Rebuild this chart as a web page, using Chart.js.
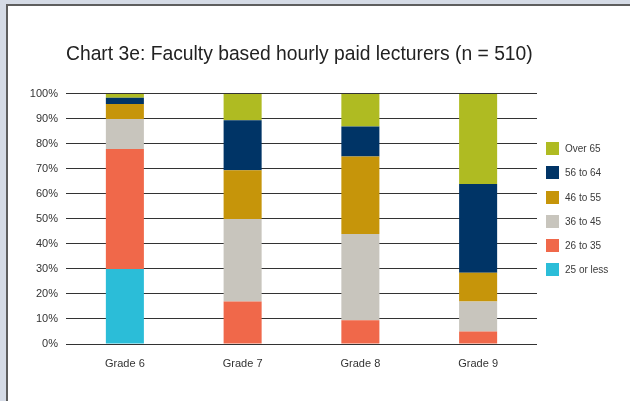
<!DOCTYPE html>
<html>
<head>
<meta charset="utf-8">
<script src="https://cdn.jsdelivr.net/npm/chart.js@4/dist/chart.umd.min.js"></script>
<style>
  html, body { margin: 0; padding: 0; }
  body { width: 630px; height: 401px; background: #d5dbe6; position: relative; overflow: hidden; font-family: "Liberation Sans", Arial, sans-serif; }
  #panel { position: absolute; left: 6px; top: 4px; width: 640px; height: 420px; background: #fff; border-left: 2px solid #5e5e5e; border-top: 2px solid #5e5e5e; box-sizing: border-box; }
  #wrap { position: absolute; left: 9px; top: 7px; width: 572px; height: 394px; }
  #legend { position: absolute; left: 546px; top: 142px; margin: 0; padding: 0; list-style: none; }
  #legend li { height: 13px; margin-bottom: 11.3px; display: flex; align-items: center; font-size: 10px; color: #3a3a3a; white-space: nowrap; }
  #legend span.sw { width: 13px; height: 13px; display: inline-block; margin-right: 6px; }
</style>
</head>
<body>
<div id="panel"></div>
<div id="wrap"><canvas id="chart"></canvas></div>
<ul id="legend"></ul>
<script>
// DATA
const categories = ["Grade 6", "Grade 7", "Grade 8", "Grade 9"];
const ageGroups = ["25 or less", "26 to 35", "36 to 45", "46 to 55", "56 to 64", "Over 65"];
const upTo25   = [30, 0, 0, 0];
const age26to35 = [48, 17, 9.5, 5];
const age36to45 = [12, 33, 34.5, 12];
const age46to55 = [6, 19.5, 31, 11.5];
const age56to64 = [2.5, 20, 12, 35.5];
const over65    = [1.5, 10.5, 13, 36];
const yTicks = [0, 10, 20, 30, 40, 50, 60, 70, 80, 90, 100];

const colours = ["#2bbdd8", "#f0684a", "#c8c5bd", "#c6950a", "#003466", "#afbb22"];
const series = [upTo25, age26to35, age36to45, age46to55, age56to64, over65];

const FONT = "'Liberation Sans', Arial, sans-serif";

const datasets = series.map((vals, i) => ({
    label: ageGroups[i],
    data: vals,
    backgroundColor: colours[i],
    borderWidth: 0,
    categoryPercentage: 1,
    barPercentage: 0.323
}));

new Chart(document.getElementById("chart"), {
    type: "bar",
    data: { labels: categories, datasets },
    options: {
        responsive: true,
        maintainAspectRatio: false,
        animation: false,
        layout: { padding: { left: 0, right: 44, top: 0, bottom: 25.8 } },
        plugins: {
            legend: { display: false },
            tooltip: { enabled: false },
            title: {
                display: true,
                fullSize: false,
                align: "start",
                text: "Chart 3e: Faculty based hourly paid lecturers (n = 510)",
                color: "#222",
                font: { family: FONT, size: 19.3, weight: "normal" },
                padding: { top: 36.4, bottom: 27.4 }
            }
        },
        scales: {
            x: {
                stacked: true,
                grid: { display: false },
                border: { display: false },
                ticks: { color: "#333", padding: 5, font: { family: FONT, size: 11 } }
            },
            y: {
                stacked: true,
                min: 0,
                max: 100,
                afterFit: s => { s.width = 57; },
                afterBuildTicks: s => { s.ticks = yTicks.map(v => ({ value: v })); },
                grid: { color: "#333", lineWidth: 1, drawTicks: false },
                border: { display: false },
                ticks: {
                    color: "#333",
                    padding: 8,
                    font: { family: FONT, size: 11 },
                    callback: v => v + "%"
                }
            }
        }
    }
});

// LEGEND (reversed, top = Over 65)
const legend = document.getElementById("legend");
for (let i = ageGroups.length - 1; i >= 0; i--) {
    const li = document.createElement("li");
    li.innerHTML = `<span class="sw" style="background:${colours[i]}"></span>${ageGroups[i]}`;
    legend.appendChild(li);
}
</script>
</body>
</html>
